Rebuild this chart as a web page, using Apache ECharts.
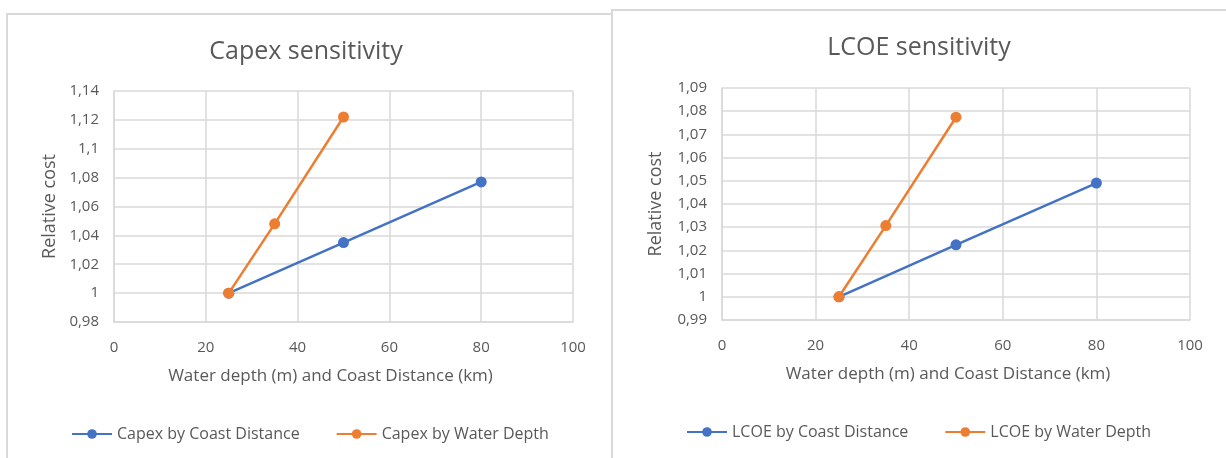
<!DOCTYPE html>
<html>
<head>
<meta charset="utf-8">
<script src="https://cdn.jsdelivr.net/npm/echarts@6/dist/echarts.min.js"></script>
<style>
  html, body { margin: 0; padding: 0; width: 1226px; height: 458px; overflow: hidden; background: #ffffff; }
  .box { position: absolute; box-sizing: border-box; border: 2px solid #d9d9d9; }
  #box1 { left: 6px; top: 13px; width: 607px; height: 470px; }
  #box2 { left: 611px; top: 9px; width: 640px; height: 470px; }
  #chart1 { position: absolute; left: 0; top: 0; width: 612px; height: 458px; }
  #chart2 { position: absolute; left: 612px; top: 0; width: 614px; height: 458px; }
</style>
</head>
<body>
<div class="box" id="box1"></div>
<div class="box" id="box2"></div>
<div id="chart1"></div>
<div id="chart2"></div>
<script>
// x values: water depth (m) / coast distance (km)
const distX = [25, 50, 80];
const depthX = [25, 35, 50];

// capex sensitivity
const capexByDistance = [1, 1.035, 1.077];
const capexByDepth = [1, 1.048, 1.122];

// LCOE sensitivity
const lcoeByDistance = [1, 1.0224, 1.049];
const lcoeByDepth = [1, 1.0307, 1.0774];

const FONT = 'Open Sans';
const TEXT = '#595959';
const GRID = '#d9d9d9';

function pairs(xs, ys) {
  return xs.map((x, i) => [x, ys[i]]);
}

// 1,02 style labels
function commaLabel(v) {
  return String(parseFloat(v.toFixed(2))).replace('.', ',');
}

function buildOption(cfg) {
  return {
    animation: false,
    textStyle: { fontFamily: FONT },
    title: {
      text: cfg.title,
      left: 'center',
      top: cfg.titleTop,
      textStyle: { fontFamily: FONT, fontSize: 25, fontWeight: 'normal', color: TEXT }
    },
    legend: {
      data: cfg.names,
      left: cfg.legendLeft,
      top: cfg.legendTop,
      itemWidth: 40,
      itemHeight: 12,
      itemGap: 36,
      textStyle: { fontFamily: FONT, fontSize: 16, color: TEXT }
    },
    grid: cfg.grid,
    xAxis: {
      type: 'value',
      min: 0,
      max: 100,
      interval: 20,
      name: 'Water depth (m) and Coast Distance (km)',
      nameLocation: 'middle',
      nameGap: 46,
      nameTextStyle: { fontFamily: FONT, fontSize: 17, color: TEXT, padding: [0, cfg.xNameShift, 0, 0] },
      axisLine: { show: true, lineStyle: { color: GRID, width: 1.5 } },
      axisTick: { show: false },
      axisLabel: { color: TEXT, fontSize: 15, margin: 18 },
      splitLine: { show: true, lineStyle: { color: GRID, width: 1.5 } }
    },
    yAxis: {
      type: 'value',
      min: cfg.yMin,
      max: cfg.yMax,
      interval: cfg.yStep,
      name: 'Relative cost',
      nameLocation: 'middle',
      nameGap: cfg.yNameGap,
      nameTextStyle: { fontFamily: FONT, fontSize: 18, color: TEXT },
      axisLine: { show: true, lineStyle: { color: GRID, width: 1.5 } },
      axisTick: { show: false },
      axisLabel: { color: TEXT, fontSize: 15, margin: 15, formatter: commaLabel },
      splitLine: { show: true, lineStyle: { color: GRID, width: 1.5 } }
    },
    series: [
      {
        name: cfg.names[0],
        type: 'line',
        data: pairs(distX, cfg.dist),
        symbol: 'circle',
        symbolSize: 11,
        itemStyle: { color: '#4472c4' },
        lineStyle: { color: '#4472c4', width: 2.5 }
      },
      {
        name: cfg.names[1],
        type: 'line',
        data: pairs(depthX, cfg.depth),
        symbol: 'circle',
        symbolSize: 11,
        itemStyle: { color: '#ed7d31' },
        lineStyle: { color: '#ed7d31', width: 2.5 }
      }
    ]
  };
}

const chart1 = echarts.init(document.getElementById('chart1'));
chart1.setOption(buildOption({
  title: 'Capex sensitivity',
  titleTop: 34,
  legendTop: 421,
  legendLeft: 66,
  names: ['Capex by Coast Distance', 'Capex by Water Depth'],
  grid: { left: 114, right: 39, top: 91, bottom: 136 },
  yMin: 0.98, yMax: 1.14, yStep: 0.02,
  yNameGap: 55,
  xNameShift: 26,
  dist: capexByDistance,
  depth: capexByDepth
}));

const chart2 = echarts.init(document.getElementById('chart2'));
chart2.setOption(buildOption({
  title: 'LCOE sensitivity',
  titleTop: 30,
  legendTop: 419,
  legendLeft: 69,
  names: ['LCOE by Coast Distance', 'LCOE by Water Depth'],
  grid: { left: 110, right: 36, top: 88, bottom: 138 },
  yMin: 0.99, yMax: 1.09, yStep: 0.01,
  yNameGap: 57,
  xNameShift: 16,
  dist: lcoeByDistance,
  depth: lcoeByDepth
}));
</script>
</body>
</html>
